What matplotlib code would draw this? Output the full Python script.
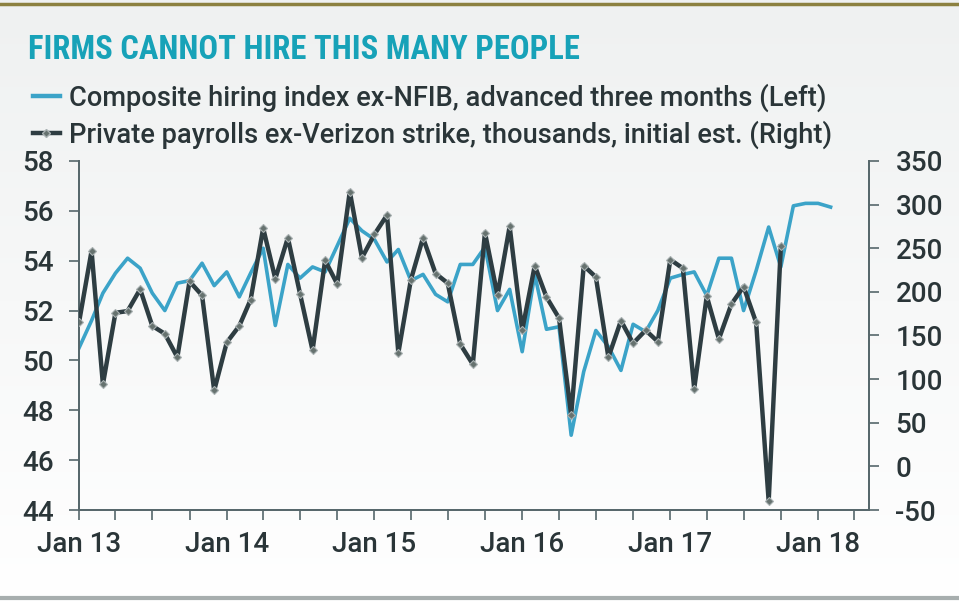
import numpy as np
import pandas as pd
import matplotlib
matplotlib.use("Agg")
import matplotlib.pyplot as plt
import matplotlib.dates as mdates
from matplotlib.lines import Line2D

# composite hiring index ex-NFIB, advanced three months (left axis), Jan 2013 .. Feb 2018
hiring = [50.5, 51.6, 52.7, 53.5, 54.1, 53.7, 52.7, 52.0, 53.1, 53.2,
          53.9, 53.0, 53.55, 52.55, 53.5, 54.5, 51.4, 53.85, 53.3, 53.75,
          53.55, 54.6, 55.7, 55.2, 54.85, 53.95, 54.45, 53.2, 53.45, 52.65,
          52.35, 53.85, 53.85, 54.55, 52.0, 52.85, 50.35, 53.45, 51.25, 51.35,
          47.0, 49.55, 51.2, 50.55, 49.6, 51.45, 51.15, 52.0, 53.3, 53.45,
          53.55, 52.6, 54.1, 54.1, 52.0, 53.6, 55.35, 53.75, 56.2, 56.3,
          56.3, 56.15]
hiring_dates = pd.date_range("2013-01-01", periods=len(hiring), freq="MS")

# private payrolls ex-Verizon strike, thousands, initial estimate (right axis), Jan 2013 .. Oct 2017
payrolls = [165, 247, 94, 176, 178, 203, 161, 152, 125, 212,
            196, 87, 142, 161, 191, 273, 215, 262, 198, 133,
            236, 209, 315, 239, 266, 288, 130, 214, 262, 221,
            210, 140, 117, 268, 196, 275, 156, 230, 194, 170,
            59, 230, 217, 125, 167, 141, 156, 143, 237, 227,
            89, 195, 146, 186, 206, 165, -40, 252]
payroll_dates = pd.date_range("2013-01-01", periods=len(payrolls), freq="MS")

left_ticks = [44, 46, 48, 50, 52, 54, 56, 58]
right_ticks = [-50, 0, 50, 100, 150, 200, 250, 300, 350]

label1 = "Composite hiring index ex-NFIB, advanced three months (Left)"
label2 = "Private payrolls ex-Verizon strike, thousands, initial est. (Right)"
title = "FIRMS CANNOT HIRE THIS MANY PEOPLE"

blue = "#3ba3c8"
dark = "#2e3d42"
txt = "#2a3538"
spine_c = "#56676b"

plt.rcParams["font.family"] = ["Roboto", "DejaVu Sans"]
plt.rcParams["font.weight"] = "medium"
plt.rcParams["axes.unicode_minus"] = False

fig = plt.figure(figsize=(9.59, 6.02), dpi=100)

# background gradient
bg = fig.add_axes([0, 0, 1, 1], zorder=-10)
grad = np.linspace(0, 1, 256).reshape(-1, 1)
cmap = matplotlib.colors.LinearSegmentedColormap.from_list("bg", ["#eff1f1", "#ffffff"])
bg.imshow(grad, aspect="auto", cmap=cmap, extent=[0, 1, 0, 1], origin="upper")
bg.set_axis_off()
fig.add_artist(Line2D([0, 1], [0.9935, 0.9935], color="#8c8140", lw=2.5, transform=fig.transFigure))
fig.add_artist(Line2D([0, 1], [0.006, 0.006], color="#a7aeae", lw=3, transform=fig.transFigure))

ax = fig.add_axes([0.0824, 0.1528, 0.8238, 0.5798])
ax.patch.set_alpha(0)
ax2 = ax.twinx()

l1, = ax.plot(hiring_dates, hiring, color=blue, lw=2.6, zorder=2)
l2, = ax2.plot(payroll_dates, payrolls, color=dark, lw=3.2, marker="D", ms=4.5,
               mfc="#66726f", mec="#a9b1b2", mew=0.8, zorder=3)

ax.set_ylim(44, 58)
ax.set_yticks(left_ticks)
ax2.set_ylim(-50, 350)
ax2.set_yticks(right_ticks)
ax.set_xlim(pd.Timestamp("2013-01-01"), pd.Timestamp("2018-05-07"))

ax.xaxis.set_major_locator(mdates.MonthLocator(bymonth=[1, 4, 7, 10]))
ax.xaxis.set_major_formatter(plt.FuncFormatter(
    lambda v, p: mdates.num2date(v).strftime("%b %y") if mdates.num2date(v).month == 1 else ""))

for a in (ax, ax2):
    a.spines["top"].set_visible(False)
    for s in ("left", "right", "bottom"):
        a.spines[s].set_color(spine_c)
        a.spines[s].set_linewidth(1.3)
    a.tick_params(colors=spine_c, labelcolor=txt, labelsize=20, length=7, width=1.2)
ax.tick_params(axis="y", pad=11)
ax2.tick_params(axis="y", pad=12)
ax.tick_params(axis="x", pad=8)

fig.text(0.029, 0.917, title, color="#17a2b8", fontsize=23.5, fontweight="bold",
         va="center", ha="left", family=["Liberation Sans Narrow", "Roboto Condensed", "Roboto"])

h1 = Line2D([], [], color=blue, lw=3.2)
h2 = Line2D([], [], color=dark, lw=3.2, marker="D", ms=4.5, mfc="#66726f", mec="#a9b1b2")
fig.legend([h1, h2], [label1, label2], loc="upper left", bbox_to_anchor=(0.034, 0.862),
           frameon=False, fontsize=19.6, handlelength=1.0, handletextpad=0.35,
           labelspacing=0.32, borderaxespad=0, borderpad=0, labelcolor=txt)

fig.savefig("out.png", dpi=100)
